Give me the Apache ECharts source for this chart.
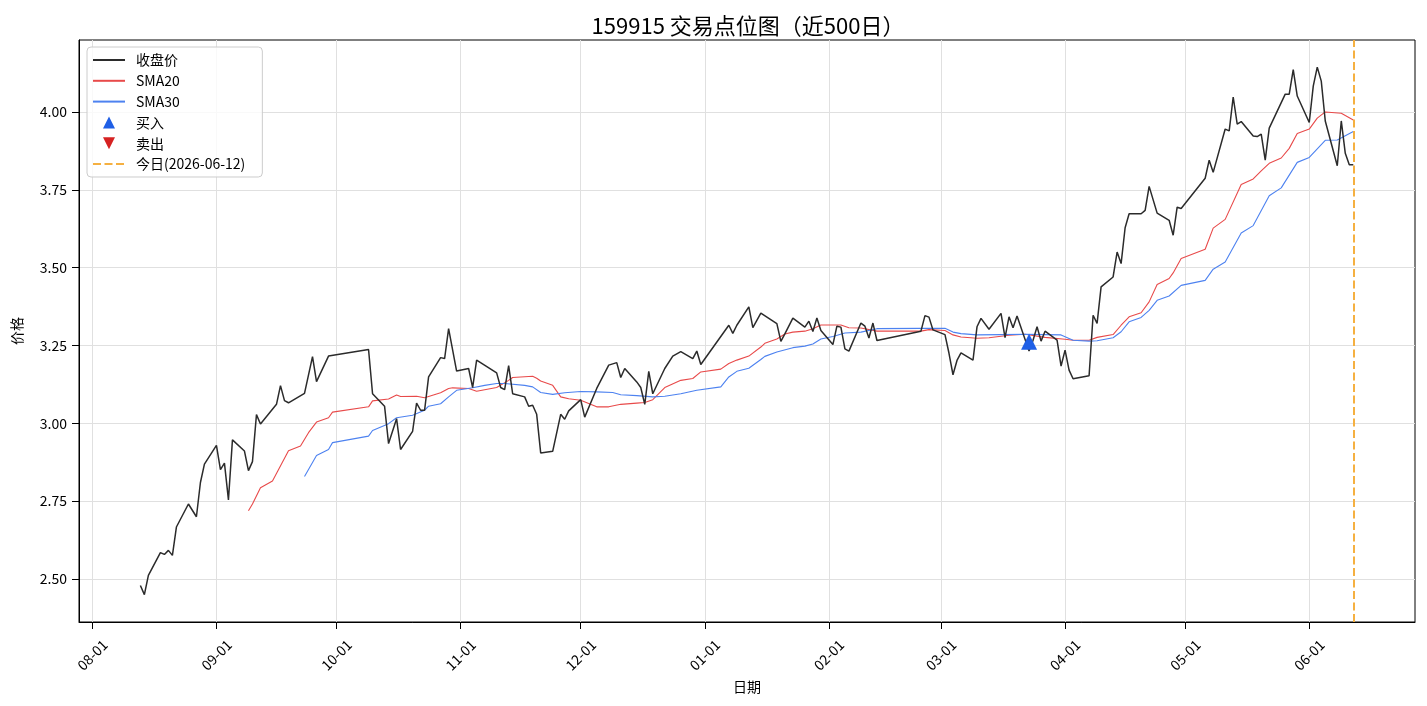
<!DOCTYPE html>
<html>
<head>
<meta charset="utf-8">
<title>159915 交易点位图</title>
<script src="https://cdn.jsdelivr.net/npm/echarts@6/dist/echarts.min.js"></script>
<style>
html, body { margin: 0; padding: 0; background: #fff; }
#main { width: 1427px; height: 706px; }
</style>
</head>
<body>
<div id="main"></div>
<script>
// 收盘价
var closeData = [
	['2025-08-13', 2.479], ['2025-08-14', 2.450], ['2025-08-15', 2.512], ['2025-08-18', 2.585],
	['2025-08-19', 2.579], ['2025-08-20', 2.592], ['2025-08-21', 2.576], ['2025-08-22', 2.667],
	['2025-08-25', 2.741], ['2025-08-27', 2.700], ['2025-08-28', 2.810], ['2025-08-29', 2.869],
	['2025-09-01', 2.929], ['2025-09-02', 2.851], ['2025-09-03', 2.872], ['2025-09-04', 2.754],
	['2025-09-05', 2.947], ['2025-09-08', 2.911], ['2025-09-09', 2.848], ['2025-09-10', 2.877],
	['2025-09-11', 3.028], ['2025-09-12', 2.998], ['2025-09-16', 3.061], ['2025-09-17', 3.121],
	['2025-09-18', 3.073], ['2025-09-19', 3.066], ['2025-09-23', 3.096], ['2025-09-25', 3.214],
	['2025-09-26', 3.134], ['2025-09-29', 3.216], ['2025-10-09', 3.237], ['2025-10-10', 3.095],
	['2025-10-13', 3.055], ['2025-10-14', 2.935], ['2025-10-16', 3.015], ['2025-10-17', 2.916],
	['2025-10-20', 2.974], ['2025-10-21', 3.065], ['2025-10-22', 3.042], ['2025-10-23', 3.042],
	['2025-10-24', 3.149], ['2025-10-27', 3.211], ['2025-10-28', 3.208], ['2025-10-29', 3.304],
	['2025-10-31', 3.168], ['2025-11-03', 3.176], ['2025-11-04', 3.115], ['2025-11-05', 3.203],
	['2025-11-10', 3.162], ['2025-11-11', 3.115], ['2025-11-12', 3.108], ['2025-11-13', 3.185],
	['2025-11-14', 3.095], ['2025-11-17', 3.085], ['2025-11-18', 3.055], ['2025-11-19', 3.058],
	['2025-11-20', 3.029], ['2025-11-21', 2.905], ['2025-11-24', 2.910], ['2025-11-26', 3.029],
	['2025-11-27', 3.013], ['2025-11-28', 3.040], ['2025-12-01', 3.076], ['2025-12-02', 3.020],
	['2025-12-05', 3.112], ['2025-12-08', 3.187], ['2025-12-10', 3.195], ['2025-12-11', 3.147],
	['2025-12-12', 3.176], ['2025-12-15', 3.133], ['2025-12-16', 3.115], ['2025-12-17', 3.061],
	['2025-12-18', 3.167], ['2025-12-19', 3.095], ['2025-12-22', 3.176], ['2025-12-24', 3.216],
	['2025-12-26', 3.230], ['2025-12-29', 3.208], ['2025-12-30', 3.232], ['2025-12-31', 3.189],
	['2026-01-07', 3.315], ['2026-01-08', 3.289], ['2026-01-09', 3.315], ['2026-01-12', 3.374],
	['2026-01-13', 3.307], ['2026-01-15', 3.354], ['2026-01-19', 3.320], ['2026-01-20', 3.263],
	['2026-01-21', 3.287], ['2026-01-23', 3.338], ['2026-01-26', 3.309], ['2026-01-27', 3.328],
	['2026-01-28', 3.295], ['2026-01-29', 3.338], ['2026-01-30', 3.298], ['2026-02-02', 3.253],
	['2026-02-03', 3.312], ['2026-02-04', 3.309], ['2026-02-05', 3.239], ['2026-02-06', 3.232],
	['2026-02-09', 3.322], ['2026-02-10', 3.312], ['2026-02-11', 3.274], ['2026-02-12', 3.322],
	['2026-02-13', 3.266], ['2026-02-24', 3.296], ['2026-02-25', 3.346], ['2026-02-26', 3.341],
	['2026-02-27', 3.300], ['2026-03-02', 3.285], ['2026-03-03', 3.225], ['2026-03-04', 3.156],
	['2026-03-05', 3.202], ['2026-03-06', 3.226], ['2026-03-09', 3.203], ['2026-03-10', 3.310],
	['2026-03-11', 3.337], ['2026-03-13', 3.302], ['2026-03-16', 3.353], ['2026-03-17', 3.275],
	['2026-03-18', 3.342], ['2026-03-19', 3.307], ['2026-03-20', 3.345], ['2026-03-23', 3.232],
	['2026-03-24', 3.267], ['2026-03-25', 3.310], ['2026-03-26', 3.264], ['2026-03-27', 3.296],
	['2026-03-30', 3.267], ['2026-03-31', 3.184], ['2026-04-01', 3.235], ['2026-04-02', 3.171],
	['2026-04-03', 3.143], ['2026-04-07', 3.153], ['2026-04-08', 3.347], ['2026-04-09', 3.321],
	['2026-04-10', 3.438], ['2026-04-13', 3.470], ['2026-04-14', 3.550], ['2026-04-15', 3.513],
	['2026-04-16', 3.628], ['2026-04-17', 3.673], ['2026-04-20', 3.673], ['2026-04-21', 3.684],
	['2026-04-22', 3.761], ['2026-04-24', 3.675], ['2026-04-27', 3.652], ['2026-04-28', 3.604],
	['2026-04-29', 3.694], ['2026-04-30', 3.690], ['2026-05-06', 3.787], ['2026-05-07', 3.845],
	['2026-05-08', 3.806], ['2026-05-11', 3.945], ['2026-05-12', 3.939], ['2026-05-13', 4.048],
	['2026-05-14', 3.961], ['2026-05-15', 3.969], ['2026-05-18', 3.923], ['2026-05-19', 3.921],
	['2026-05-20', 3.929], ['2026-05-21', 3.845], ['2026-05-22', 3.948], ['2026-05-26', 4.057],
	['2026-05-27', 4.057], ['2026-05-28', 4.136], ['2026-05-29', 4.051], ['2026-06-01', 3.966],
	['2026-06-02', 4.083], ['2026-06-03', 4.144], ['2026-06-04', 4.099], ['2026-06-05', 3.971],
	['2026-06-08', 3.827], ['2026-06-09', 3.971], ['2026-06-10', 3.867], ['2026-06-11', 3.830],
	['2026-06-12', 3.830]
];

// SMA20
var sma20Data = [
	['2025-09-09', 2.719], ['2025-09-10', 2.741], ['2025-09-12', 2.793], ['2025-09-15', 2.815],
	['2025-09-19', 2.912], ['2025-09-22', 2.927], ['2025-09-24', 2.970], ['2025-09-26', 3.004],
	['2025-09-29', 3.018], ['2025-09-30', 3.036], ['2025-10-09', 3.053], ['2025-10-10', 3.072],
	['2025-10-14', 3.078], ['2025-10-16', 3.091], ['2025-10-17', 3.086], ['2025-10-21', 3.087],
	['2025-10-23', 3.082], ['2025-10-27', 3.098], ['2025-10-29', 3.112], ['2025-10-30', 3.114],
	['2025-11-03', 3.112], ['2025-11-05', 3.103], ['2025-11-10', 3.115], ['2025-11-13', 3.138],
	['2025-11-14', 3.147], ['2025-11-19', 3.151], ['2025-11-20', 3.145], ['2025-11-21', 3.136],
	['2025-11-24', 3.122], ['2025-11-26', 3.085], ['2025-11-28', 3.079], ['2025-12-01', 3.074],
	['2025-12-05', 3.053], ['2025-12-08', 3.053], ['2025-12-11', 3.061], ['2025-12-15', 3.065],
	['2025-12-17', 3.067], ['2025-12-19', 3.076], ['2025-12-22', 3.115], ['2025-12-26', 3.138],
	['2025-12-29', 3.144], ['2025-12-31', 3.165], ['2026-01-05', 3.174], ['2026-01-07', 3.192],
	['2026-01-09', 3.203], ['2026-01-12', 3.216], ['2026-01-15', 3.245], ['2026-01-16', 3.257],
	['2026-01-19', 3.271], ['2026-01-21', 3.287], ['2026-01-23', 3.293], ['2026-01-26', 3.296],
	['2026-01-28', 3.304], ['2026-01-30', 3.316], ['2026-02-04', 3.316], ['2026-02-06', 3.307],
	['2026-02-09', 3.306], ['2026-02-13', 3.296], ['2026-02-24', 3.296], ['2026-02-26', 3.301],
	['2026-03-02', 3.298], ['2026-03-04', 3.284], ['2026-03-06', 3.277], ['2026-03-10', 3.273],
	['2026-03-13', 3.275], ['2026-03-18', 3.283], ['2026-03-22', 3.286], ['2026-03-27', 3.276],
	['2026-04-01', 3.270], ['2026-04-03', 3.267], ['2026-04-07', 3.267], ['2026-04-09', 3.276],
	['2026-04-13', 3.285], ['2026-04-15', 3.315], ['2026-04-17', 3.342], ['2026-04-20', 3.355],
	['2026-04-22', 3.390], ['2026-04-24', 3.446], ['2026-04-27', 3.465], ['2026-04-28', 3.483],
	['2026-04-30', 3.529], ['2026-05-06', 3.559], ['2026-05-08', 3.627], ['2026-05-11', 3.655],
	['2026-05-15', 3.767], ['2026-05-18', 3.785], ['2026-05-20', 3.811], ['2026-05-22', 3.835],
	['2026-05-25', 3.852], ['2026-05-27', 3.883], ['2026-05-29', 3.931], ['2026-06-01', 3.945],
	['2026-06-03', 3.980], ['2026-06-05', 4.000], ['2026-06-09', 3.996], ['2026-06-12', 3.974]
];

// SMA30
var sma30Data = [
	['2025-09-23', 2.829], ['2025-09-26', 2.897], ['2025-09-29', 2.916], ['2025-09-30', 2.938],
	['2025-10-09', 2.959], ['2025-10-10', 2.977], ['2025-10-14', 2.999], ['2025-10-16', 3.018],
	['2025-10-20', 3.026], ['2025-10-23', 3.042], ['2025-10-24', 3.055], ['2025-10-27', 3.063],
	['2025-10-29', 3.085], ['2025-10-31', 3.106], ['2025-11-04', 3.114], ['2025-11-07', 3.122],
	['2025-11-10', 3.128], ['2025-11-12', 3.128], ['2025-11-17', 3.122], ['2025-11-19', 3.117],
	['2025-11-21', 3.099], ['2025-11-24', 3.093], ['2025-11-27', 3.098], ['2025-12-01', 3.102],
	['2025-12-05', 3.101], ['2025-12-09', 3.099], ['2025-12-11', 3.092], ['2025-12-15', 3.089],
	['2025-12-19', 3.085], ['2025-12-22', 3.087], ['2025-12-26', 3.095], ['2025-12-30', 3.106],
	['2026-01-05', 3.117], ['2026-01-07', 3.149], ['2026-01-09', 3.167], ['2026-01-12', 3.177],
	['2026-01-15', 3.205], ['2026-01-16', 3.215], ['2026-01-19', 3.229], ['2026-01-23', 3.243],
	['2026-01-26', 3.248], ['2026-01-28', 3.255], ['2026-01-30', 3.271], ['2026-02-02', 3.279],
	['2026-02-05', 3.290], ['2026-02-09', 3.293], ['2026-02-13', 3.304], ['2026-02-24', 3.305],
	['2026-03-02', 3.305], ['2026-03-04', 3.293], ['2026-03-06', 3.288], ['2026-03-10', 3.284],
	['2026-03-16', 3.285], ['2026-03-22', 3.286], ['2026-03-27', 3.285], ['2026-03-31', 3.284],
	['2026-04-03', 3.267], ['2026-04-07', 3.264], ['2026-04-09', 3.265], ['2026-04-13', 3.275],
	['2026-04-15', 3.294], ['2026-04-17', 3.326], ['2026-04-20', 3.340], ['2026-04-22', 3.363],
	['2026-04-24', 3.395], ['2026-04-27', 3.409], ['2026-04-30', 3.443], ['2026-05-06', 3.459],
	['2026-05-08', 3.495], ['2026-05-11', 3.518], ['2026-05-15', 3.611], ['2026-05-18', 3.635],
	['2026-05-22', 3.731], ['2026-05-25', 3.756], ['2026-05-29', 3.838], ['2026-06-01', 3.854],
	['2026-06-05', 3.909], ['2026-06-08', 3.910], ['2026-06-12', 3.937]
];

// 买卖点
var buyData = [['2026-03-23', 3.262]];
var sellData = [];
var todayDate = '2026-06-12';

// 刻度
var monthTicks = ['2025-08-01', '2025-09-01', '2025-10-01', '2025-11-01', '2025-12-01', '2026-01-01',
	'2026-02-01', '2026-03-01', '2026-04-01', '2026-05-01', '2026-06-01'];
var priceTicks = [2.50, 2.75, 3.00, 3.25, 3.50, 3.75, 4.00];

var FONT = 'Noto Sans CJK SC';
var chart = echarts.init(document.getElementById('main'));

function pad(n) {
	return n < 10 ? '0' + n : '' + n;
}
function ts(d) {
	return +echarts.number.parseDate(d);
}
function toTs(list) {
	return list.map(function (p) { return [ts(p[0]), p[1]]; });
}
var monthTickValues = monthTicks.map(ts);
var todayName = '今日(' + todayDate + ')';

// 图例：线条不画圆点，三角形不拉伸
var noDot = { opacity: 0 };
var legendData = [
	{ name: '收盘价', itemStyle: noDot },
	{ name: 'SMA20', itemStyle: noDot },
	{ name: 'SMA30', itemStyle: noDot },
	{ name: '买入', icon: 'path://M5,0L10,10L0,10Z' },
	{ name: '卖出', icon: 'path://M0,0L10,0L5,10Z' },
	{ name: todayName, itemStyle: noDot }
];

var option = {
	animation: false,
	backgroundColor: '#fff',
	textStyle: { fontFamily: FONT },
	title: {
		text: '159915 交易点位图（近500日）',
		left: 743,
		textAlign: 'center',
		top: 10,
		textStyle: { fontFamily: FONT, fontSize: 22, fontWeight: 'normal', color: '#000' }
	},
	legend: {
		orient: 'vertical',
		left: 87,
		top: 47,
		padding: [6, 17, 6, 5],
		itemWidth: 32,
		itemHeight: 12,
		itemGap: 6.8,
		symbolKeepAspect: true,
		backgroundColor: 'rgba(255,255,255,0.8)',
		borderColor: '#cccccc',
		borderWidth: 1,
		borderRadius: 4,
		textStyle: { fontFamily: FONT, fontSize: 14, color: '#000', padding: [0, 0, 0, 6] },
		data: legendData
	},
	grid: {
		left: 79,
		right: 12,
		top: 40,
		bottom: 84,
		show: true,
		borderColor: '#000',
		borderWidth: 1,
		containLabel: false
	},
	xAxis: {
		type: 'value',
		min: ts('2025-07-28 16:00'),
		max: ts('2026-06-27 10:00'),
		name: '日期',
		nameLocation: 'middle',
		nameGap: 57,
		nameTextStyle: { fontFamily: FONT, fontSize: 14, color: '#000' },
		axisLine: { show: true, lineStyle: { color: '#000', width: 1 } },
		axisTick: { show: true, length: 7, lineStyle: { color: '#000' }, customValues: monthTickValues },
		axisLabel: {
			customValues: monthTickValues,
			rotate: 45,
			align: 'center',
			verticalAlign: 'middle',
			margin: 33,
			fontFamily: FONT,
			fontSize: 14,
			color: '#000',
			formatter: function (v) {
				var d = new Date(v);
				return pad(d.getMonth() + 1) + '-' + pad(d.getDate());
			}
		},
		splitLine: { show: true, lineStyle: { color: '#e0e0e0', width: 1 } }
	},
	yAxis: {
		type: 'value',
		min: 2.362,
		max: 4.231,
		name: '价格',
		nameLocation: 'middle',
		nameGap: 55,
		nameTextStyle: { fontFamily: FONT, fontSize: 14, color: '#000' },
		axisLine: { show: true, lineStyle: { color: '#000', width: 1 } },
		axisTick: { show: true, length: 7, lineStyle: { color: '#000' }, customValues: priceTicks },
		axisLabel: {
			customValues: priceTicks,
			margin: 12,
			fontFamily: FONT,
			fontSize: 14,
			color: '#000',
			formatter: function (v) { return v.toFixed(2); }
		},
		splitLine: { show: true, lineStyle: { color: '#e0e0e0', width: 1 } }
	},
	series: [
		{
			name: '收盘价',
			type: 'line',
			data: toTs(closeData),
			symbol: 'none',
			z: 4,
			lineStyle: { color: '#2b2b2b', width: 1.5 },
			itemStyle: { color: '#2b2b2b' }
		},
		{
			name: 'SMA20',
			type: 'line',
			data: toTs(sma20Data),
			symbol: 'none',
			z: 3,
			lineStyle: { color: '#e84a4a', width: 1.1 },
			itemStyle: { color: '#e84a4a' }
		},
		{
			name: 'SMA30',
			type: 'line',
			data: toTs(sma30Data),
			symbol: 'none',
			z: 3,
			lineStyle: { color: '#4d82f0', width: 1.1 },
			itemStyle: { color: '#4d82f0' }
		},
		{
			name: '买入',
			type: 'scatter',
			data: toTs(buyData),
			symbol: 'triangle',
			symbolSize: 16,
			z: 6,
			itemStyle: { color: '#1f5fe6', opacity: 1 }
		},
		{
			name: '卖出',
			type: 'scatter',
			data: toTs(sellData),
			symbol: 'triangle',
			symbolRotate: 180,
			symbolSize: 16,
			z: 6,
			itemStyle: { color: '#d62222', opacity: 1 }
		},
		{
			name: todayName,
			type: 'line',
			data: [],
			symbol: 'none',
			z: 5,
			lineStyle: { color: '#f5b041', width: 2, type: [8, 3.5] },
			itemStyle: { color: '#f5b041' },
			markLine: {
				silent: true,
				symbol: ['none', 'none'],
				label: { show: false },
				lineStyle: { color: '#f5b041', width: 2, type: [8, 3.5] },
				data: [{ xAxis: ts(todayDate) }]
			}
		}
	]
};

chart.setOption(option);
</script>
</body>
</html>
